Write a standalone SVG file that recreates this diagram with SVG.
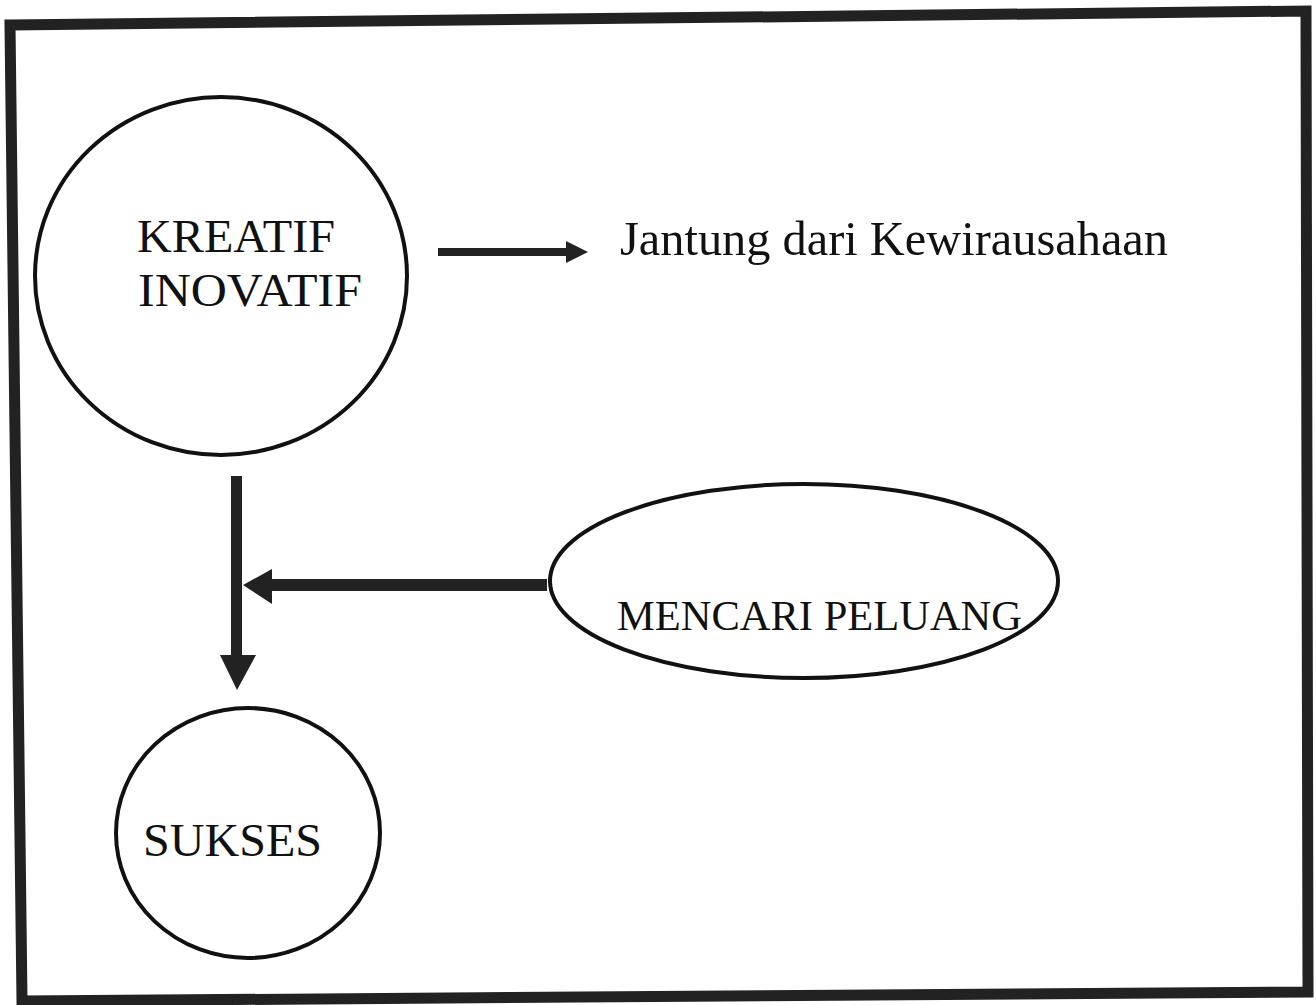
<svg xmlns="http://www.w3.org/2000/svg" width="1316" height="1005" viewBox="0 0 1316 1005">
<style>
.node{fill:none;stroke:#111;stroke-width:4}
.lbl{font-family:"Liberation Serif","Times New Roman",serif;fill:#111}
.arr{fill:#222;stroke:none}
.frame{fill:none;stroke:#222;stroke-width:11;stroke-linejoin:miter}
</style>
<rect width="1316" height="1005" fill="#fff"/>
<polygon class="frame" points="10,25 1306,11 1308,992 22,1001"/>
<g id="kreatif">
<ellipse class="node" cx="221" cy="276" rx="186" ry="179"/>
<text class="lbl" x="137" y="252" font-size="46" textLength="198" lengthAdjust="spacingAndGlyphs">KREATIF</text>
<text class="lbl" x="138" y="306" font-size="46" textLength="224" lengthAdjust="spacingAndGlyphs">INOVATIF</text>
</g>
<g id="jantung">
<text class="lbl" x="620" y="255" font-size="48" textLength="548" lengthAdjust="spacingAndGlyphs">Jantung dari Kewirausahaan</text>
</g>
<g id="mencari">
<ellipse class="node" cx="804" cy="581" rx="254" ry="97"/>
<text class="lbl" x="617" y="630" font-size="43" textLength="405" lengthAdjust="spacingAndGlyphs">MENCARI PELUANG</text>
</g>
<g id="sukses">
<ellipse class="node" cx="248" cy="833" rx="132" ry="125"/>
<text class="lbl" x="143" y="856" font-size="46" textLength="179" lengthAdjust="spacingAndGlyphs">SUKSES</text>
</g>
<g id="connectors">
<polygon class="arr" points="438,248 566,248 566,241 588,252 566,263 566,256 438,256"/>
<polygon class="arr" points="231,476 242,476 242,655 256,655 237,690 220,655 231,655"/>
<polygon class="arr" points="547,579 272,579 272,569 243,585 272,604 272,591 547,591"/>
</g>
</svg>
